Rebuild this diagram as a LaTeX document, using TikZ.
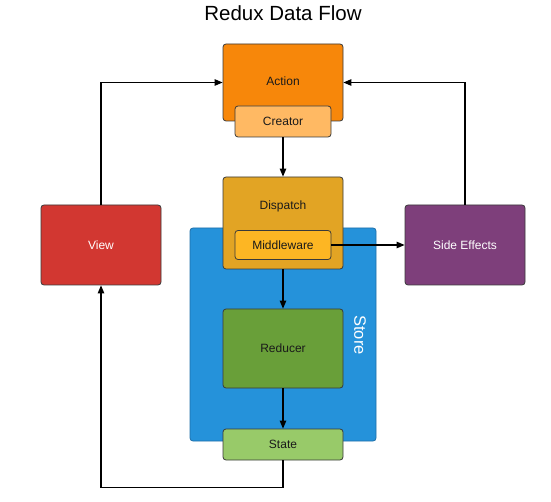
\documentclass[tikz,border=0pt]{standalone}
\usepackage{fontspec}
\setmainfont{Liberation Sans}
\usepackage{xcolor}
\usetikzlibrary{positioning, arrows.meta}
\definecolor{fg}{HTML}{1A1A1A}
\definecolor{boxBorder}{HTML}{3A3A3A}
\definecolor{actionOrange}{HTML}{F7870A}
\definecolor{creatorOrange}{HTML}{FFB963}
\definecolor{dispatchGold}{HTML}{E2A424}
\definecolor{middlewareGold}{HTML}{FDB623}
\definecolor{storeBlue}{HTML}{2592DA}
\definecolor{storeBorder}{HTML}{1F6FA8}
\definecolor{reducerGreen}{HTML}{699F39}
\definecolor{stateGreen}{HTML}{98CA69}
\definecolor{viewRed}{HTML}{D23731}
\definecolor{effectsPurple}{HTML}{7E3F7B}

\begin{document}
\begin{tikzpicture}[x=1pt, y=-1pt,
    >={Triangle[length=8pt, width=6.5pt]},
    box/.style={draw=boxBorder, line width=0.8pt, rounded corners=3pt,
                minimum width=120pt, minimum height=80pt, text=fg,
                font=\fontsize{12}{14}\selectfont},
    subbox/.style={box, minimum width=96pt, minimum height=30pt},
    flow/.style={->, line width=1.1pt, draw=black}]
  \useasboundingbox (0,0) rectangle (551,502);

  \node[font=\fontsize{20.5}{24}\selectfont, text=black] (title) at (283,13) {Redux Data Flow};

  % store container
  \node[draw=storeBorder, line width=0.8pt, fill=storeBlue, rounded corners=3pt,
        minimum width=186pt, minimum height=213pt] (store) at (283,334.5) {};
  \node[rotate=-90, text=white, font=\fontsize{16.5}{18}\selectfont] (storeLabel) at (360,335) {Store};

  % action creator
  \node[box, fill=actionOrange, minimum height=77pt] (action) at (283,82.5) {};
  \node[text=fg, font=\fontsize{12}{14}\selectfont] (actionLabel) at (283,81) {Action};
  \node[subbox, fill=creatorOrange, minimum height=31pt] (creator) at (283,121.5) {Creator};

  % dispatch with middleware
  \node[box, fill=dispatchGold, minimum height=92pt] (dispatch) at (283,223) {};
  \node[text=fg, font=\fontsize{12}{14}\selectfont] (dispatchLabel) at (283,206) {Dispatch};
  \node[subbox, fill=middlewareGold, minimum height=29pt] (middleware) at (283,245) {Middleware};

  \node[box, fill=reducerGreen, minimum height=79pt] (reducer) at (283,348.5) {Reducer};
  \node[box, fill=stateGreen, minimum height=31pt] (state) at (283,444.5) {State};

  \node[box, fill=viewRed, text=white] (view) at (101,245) {View};
  \node[box, fill=effectsPurple, text=white] (sideEffects) at (465,245) {Side Effects};

  % connectors
  \draw[flow] (view.north) |- (action.west);
  \draw[flow] (sideEffects.north) |- (action.east);
  \draw[flow] (creator.south) -- (dispatch.north);
  \draw[flow] (middleware.east) -- (sideEffects.west);
  \draw[flow] (dispatch.south) -- (reducer.north);
  \draw[flow] (reducer.south) -- (state.north);
  \draw[flow] (state.south) -- ++(0,27) -| (view.south);
\end{tikzpicture}
\end{document}
